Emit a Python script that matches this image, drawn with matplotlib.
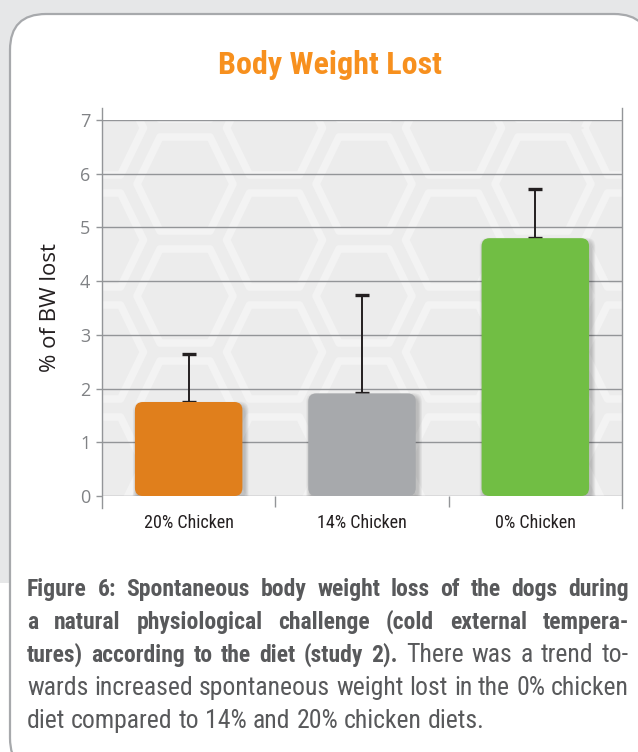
import matplotlib
matplotlib.use("Agg")
import matplotlib.pyplot as plt
from matplotlib import font_manager
from matplotlib.patches import FancyBboxPatch, Polygon, Rectangle
from matplotlib.transforms import Affine2D

# data
categories = ["20% Chicken", "14% Chicken", "0% Chicken"]
bw_lost = [1.75, 1.91, 4.80]
err_upper = [0.89, 1.83, 0.91]
bar_colors = ["#e07f1c", "#a7a9ac", "#71be44"]
yticks = [0, 1, 2, 3, 4, 5, 6, 7]

title = "Body Weight Lost"
ylabel = "% of BW lost"
caption = [
    [("Figure 6: Spontaneous body weight loss of the dogs during", "bold")],
    [("a natural physiological challenge (cold external tempera-", "bold")],
    [("tures) according to the diet (study 2).", "bold"), ("There was a trend to-", "normal")],
    [("wards increased spontaneous weight lost in the 0% chicken", "normal")],
    [("diet compared to 14% and 20% chicken diets.", "normal")],
]

# pick a narrow font if there is one
names = {f.name for f in font_manager.fontManager.ttflist}
narrow = "DejaVu Sans"
for cand in ["Liberation Sans Narrow", "DejaVu Sans Condensed", "Roboto Condensed", "Open Sans Condensed", "Roboto"]:
    if cand in names:
        narrow = cand
        break

W, H = 638, 752
fig = plt.figure(figsize=(W / 100, H / 100), dpi=100)
fig.patch.set_facecolor("#e6e7e8")
px = Affine2D().scale(1, -1).translate(0, H)  # image pixels -> display

# white panel with rounded border
fig.patches.append(Rectangle((0, 583), 40, 200, transform=px, facecolor="white", edgecolor="none", zorder=-3))
fig.patches.append(FancyBboxPatch((10, 14), 640, 760, boxstyle="round,pad=0,rounding_size=36",
                                  transform=px, facecolor="white", edgecolor="#a7a9ac", linewidth=1.6, zorder=-2))

ax = fig.add_axes([102 / W, 1 - 496 / H, 520 / W, 376 / H])
ax.set_zorder(1)
ax.set_facecolor("#ececec")
ax.set_xlim(-0.5, 2.5)
ax.set_ylim(0, 7)

# honeycomb background
for k in range(-1, 6):
    cx = 185 + 89.5 * k
    off = 56 if k % 2 else 0
    for j in range(-1, 5):
        cy = 184 + 112 * j - off
        hexpts = [(cx - 48, cy), (cx - 25, cy - 47), (cx + 25, cy - 47),
                  (cx + 48, cy), (cx + 25, cy + 47), (cx - 25, cy + 47)]
        h = Polygon(hexpts, closed=True, transform=px, facecolor="none", edgecolor="#f3f3f3",
                    linewidth=5.5, joinstyle="round", zorder=0.5)
        ax.add_patch(h)
        h.set_clip_path(ax.patch)

ax.set_yticks(yticks)
ax.grid(axis="y", color="#939598", linewidth=1.0, zorder=1)
ax.set_axisbelow(True)
for s in ax.spines.values():
    s.set_visible(False)
for xv in [-0.5, 2.5]:
    ax.plot([xv, xv], [-0.22, 7.22], color="#939598", linewidth=1.0, clip_on=False, zorder=2)

# bars with rounded corners and a soft shadow
x = list(range(len(categories)))
bars = ax.bar(x, bw_lost, width=0.62, color=bar_colors)
aspect = (173.3 / 53.7)
for b, c in zip(bars, bar_colors):
    b.set_visible(False)
    bx, by, bwid, bh = b.get_x(), b.get_y(), b.get_width(), b.get_height()
    for i in range(6):
        sh = FancyBboxPatch((bx + 0.012, by - 0.07), bwid, bh,
                            boxstyle=f"round,pad={0.004 * (i + 1)},rounding_size=0.05",
                            mutation_aspect=aspect, facecolor="black", edgecolor="none",
                            alpha=0.035, zorder=3)
        ax.add_patch(sh)
    ax.add_patch(FancyBboxPatch((bx, by), bwid, bh, boxstyle="round,pad=0,rounding_size=0.046",
                                mutation_aspect=aspect, facecolor=c, edgecolor="none", zorder=4))

ax.errorbar(x, bw_lost, yerr=[[0] * 3, err_upper], fmt="none", ecolor="#231f20",
            elinewidth=1.4, capsize=5, capthick=2.4, zorder=3.5)

ax.set_xticks(x)
ax.set_xticklabels(categories, fontsize=13, family=narrow, color="#231f20")
ax.set_xticks([0.5, 1.5], minor=True)
ax.tick_params(axis="x", which="major", length=0, pad=13)
ax.tick_params(axis="x", which="minor", length=8, color="#939598", width=1.0)
ax.tick_params(axis="y", length=4.5, color="#939598", width=1.0, pad=4, labelsize=13, labelcolor="#808285")
for t in ax.get_yticklabels():
    t.set_family("Open Sans")

ax.set_ylabel(ylabel, fontsize=16, family="Open Sans", fontweight="medium", color="#231f20")
ax.yaxis.set_label_coords(-0.078, 0.5)

fig.text(330 / W, 1 - 74 / H, title, ha="center", va="baseline", fontsize=23,
         fontweight="bold", family=narrow, color="#f7901e")

# justified caption, word by word
renderer = fig.canvas.get_renderer()
left, right = 27, 629
fsizes = {"bold": 17, "normal": 18.5}
ccol = "#58595b"

def wwidth(s, weight):
    t = fig.text(0, 0, s, fontsize=fsizes[weight], fontweight=weight, family=narrow)
    w = t.get_window_extent(renderer).width
    t.remove()
    return w

space = wwidth("a a", "normal") - wwidth("aa", "normal")
for li, line in enumerate(caption):
    words = []
    for seg, weight in line:
        words += [(w, weight) for w in seg.split(" ")]
    widths = [wwidth(w, wt) for w, wt in words]
    if li < len(caption) - 1:
        gap = (right - left - sum(widths)) / (len(words) - 1)
    else:
        gap = space
    xpos = left
    ybase = 596 + 33 * li
    for (w, wt), wd in zip(words, widths):
        fig.text(xpos / W, 1 - ybase / H, w, fontsize=fsizes[wt], fontweight=wt, family=narrow,
                 color=ccol, ha="left", va="baseline")
        xpos += wd + gap

fig.savefig("out.png", dpi=100, facecolor=fig.get_facecolor())
